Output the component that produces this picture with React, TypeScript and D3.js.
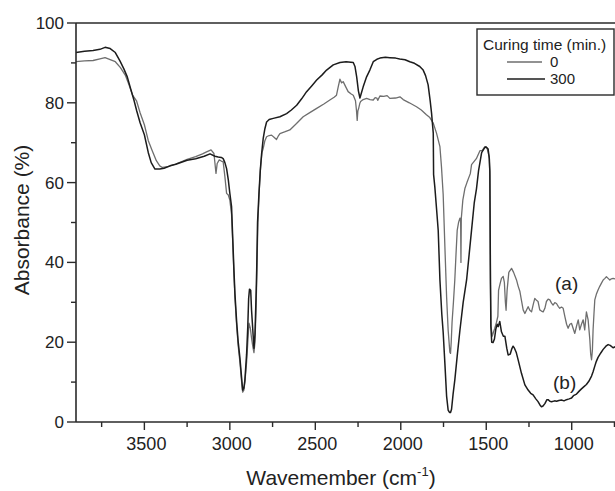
import React from "react";
import * as d3 from "d3";

// Wavenumbers (cm^-1) and absorbance (%) for 300 min curing (b, black)
const wn300 = [3900,3850,3800,3760,3730,3700,3670,3643,3620,3600,3580,3560,3545,3525,3500,3477,3460,3438,3410,3385,3350,3316,3250,3200,3150,3116,3087,3068,3050,3039,3029,3019,3009,3000,2990,2983,2976,2970,2960,2951,2941,2931,2925,2918,2912,2902,2895,2890,2885,2878,2873,2867,2859,2853,2847,2843,2838,2830,2822,2814,2805,2795,2785,2770,2746,2707,2668,2640,2609,2580,2551,2520,2492,2460,2434,2395,2356,2320,2278,2268,2258,2248,2239,2230,2220,2200,2181,2161,2140,2122,2090,2064,2030,2006,1975,1947,1920,1889,1869,1855,1840,1828,1820,1810,1808,1801,1790,1781,1771,1760,1752,1742,1732,1723,1715,1709,1703,1694,1684,1670,1654,1635,1615,1600,1586,1570,1557,1545,1527,1510,1502,1489,1482,1479,1476,1473,1468,1460,1452,1444,1436,1430,1421,1411,1400,1391,1380,1372,1360,1350,1343,1335,1325,1313,1294,1274,1255,1240,1226,1210,1197,1185,1177,1168,1157,1145,1138,1128,1118,1100,1089,1075,1060,1045,1031,1015,1001,990,972,955,943,930,914,900,884,875,865,856,846,830,816,800,787,775,758,740,720,700];
const abs300 = [92.6,92.9,93.1,93.4,93.9,93.6,92.6,90.5,88.5,86.5,83.5,80.5,78,75,72,67.5,65,63.4,63.4,63.6,64.2,64.6,65.6,66,66.6,67.2,66.6,66.4,66.3,66,65,63.5,60.7,57.3,54,46,38,32,25,20,16,11,8,8.5,10.5,17,24,31,33.3,33,28,24,18.5,22,31,38,50,57,63,67.3,71,73.5,75.2,75.8,76.1,76.5,77.3,78.2,79.4,81,82.8,84.3,85.7,87,88.2,89.5,90.1,90.3,90.1,89.1,86.5,83,81.2,82.5,84,86.5,88.2,90.3,90.9,91.2,91.4,91.3,91.2,91,90.8,90.3,89.9,89.1,88.2,86.8,84.5,80.5,77.4,72.4,62,59,53,48,35.6,27,22.5,14.7,6.5,3,2.4,2.4,3.2,7,10.5,16.5,23,30,35.6,42,48.1,55,58.5,63,67.5,68.7,69,68.4,66,63,40,24,20,19.9,20.8,23.3,24.5,23.9,25.2,22.6,21.5,21.5,18.5,16.8,17,18.4,19,18.5,17.5,15.5,12.2,9.3,8,7.2,6.8,5.8,5.1,4.2,3.8,4,4.6,5.6,5.6,5.2,5.1,5.3,5.2,5.4,5.5,5.3,5.6,5.8,6,6.6,7,7.8,8.3,8.8,9.4,10.2,11.5,12.6,14,15.2,16.2,17.3,18.2,19,19.4,19.2,18.6,19,19.3,19.5];

// 0 min curing (a, grey)
const wn0 = [3900,3850,3800,3760,3730,3700,3670,3640,3610,3590,3570,3546,3525,3500,3477,3454,3430,3410,3395,3362,3320,3250,3200,3160,3136,3110,3093,3081,3074,3062,3050,3039,3029,3019,3009,3000,2990,2983,2976,2970,2960,2951,2941,2931,2925,2918,2912,2902,2895,2888,2880,2873,2866,2859,2853,2847,2843,2836,2828,2820,2812,2805,2795,2785,2770,2756,2740,2727,2715,2707,2680,2649,2610,2571,2530,2492,2450,2415,2390,2376,2366,2356,2346,2337,2322,2308,2290,2278,2265,2259,2255,2251,2247,2240,2235,2220,2200,2180,2161,2150,2140,2135,2122,2100,2080,2064,2030,2005,1986,1950,1908,1880,1850,1830,1810,1791,1771,1762,1752,1742,1732,1723,1713,1709,1705,1700,1692,1684,1677,1670,1662,1654,1650,1648,1646,1637,1625,1613,1600,1593,1586,1558,1537,1524,1508,1495,1483,1479,1476,1472,1465,1458,1450,1440,1432,1428,1420,1411,1401,1394,1388,1384,1378,1368,1352,1340,1323,1313,1303,1294,1284,1274,1265,1255,1245,1235,1225,1216,1206,1197,1187,1177,1167,1157,1148,1138,1128,1118,1109,1099,1089,1079,1070,1060,1050,1040,1030,1021,1011,1001,992,982,972,962,953,943,933,924,914,904,894,889,884,879,875,870,865,856,846,836,826,816,806,797,787,777,768,758,740,720,700];
const abs0 = [90.3,90.5,90.6,91,91.3,90.8,90.3,88.8,86.8,84.5,82,80.5,77.5,74.5,70.5,68,65.5,64.2,63.8,64,64.6,65.8,66.5,67.2,67.7,68.2,67.3,62.3,64.8,65.7,65.4,65.2,61.5,57.3,56.9,55.6,52,45,37,31,24,19,15,10,7.5,8,10,15,20,24.8,23.5,21,19,17.4,20,28,35,50,58,64,67.5,68.5,70.5,71.5,71.8,71.9,71.3,70.8,71.8,72.3,72.7,73.2,74.8,76.5,77.6,78.6,79.7,80.7,81.4,81.9,84,85.9,85,85.3,84,82.8,82.2,81.9,80.5,78,75.6,78,78.5,79.8,80.3,80.8,81.1,80.8,80.7,81.3,81.2,80.6,81.7,81.6,81.8,81.1,81.2,81.5,80.8,80,79,78.2,77,76.3,74.9,72.4,69,64,57,44,31.4,23.1,17.5,17.2,20,25,30,35.6,42,48,50,51.1,51,40,51,55.6,58.5,60,61.5,62.3,64.5,66,68,68,69,68.6,66.5,62,35,24,21.5,22.5,23.5,25,26.5,33,34.5,36,36.5,35,30,28,33,37.5,38.5,37.5,35.6,34,32.7,30.5,28.1,27.2,28,28.9,28,27.6,29.5,31,30.5,30.2,28.1,27.8,27.6,28.5,30.2,30.8,30.6,29.8,29.3,29.9,29.7,29,28.5,28.8,28.5,26.4,24.5,23.5,24.5,24.7,23.5,22.2,24,25.6,23.1,24.5,25.6,23.1,27.6,25.6,20.6,17,15.6,18,23.1,27,30.6,32,33.1,34,34.8,35.6,36,36.4,36,35.6,35.9,36,35.8,35.5,35.5];

const xMajor = [3500, 3000, 2500, 2000, 1500, 1000];
const xMinor = [3750, 3250, 2750, 2250, 1750, 1250, 750];
const yMajor = [0, 20, 40, 60, 80, 100];
const yMinor = [10, 30, 50, 70, 90];
const legendLabels = ["0", "300"];

const FONT = "'Liberation Sans', Arial, Helvetica, sans-serif";
const L = 76, R = 623, T = 23, B = 422;
const GREY = "#6e6e6e";
const DARK = "#1c1c1c";
const AX = "#2a2a2a";

export default function App() {
  const x = d3.scaleLinear().domain([3900, 700]).range([L, R]);
  const y = d3.scaleLinear().domain([0, 100]).range([B, T]);
  const line = d3.line<[number, number]>().x(d => x(d[0])).y(d => y(d[1]));
  const d0 = line(wn0.map((w, i) => [w, abs0[i]] as [number, number])) || "";
  const d300 = line(wn300.map((w, i) => [w, abs300[i]] as [number, number])) || "";

  return (
    <svg width={615} height={491} style={{ position: "absolute", left: 0, top: 0, background: "#fff" }} fontFamily={FONT}>
      <defs>
        <clipPath id="plot"><rect x={L} y={T} width={R - L} height={B - T} /></clipPath>
      </defs>
      <rect x={0} y={0} width={615} height={491} fill="#fff" />
      <g clipPath="url(#plot)" fill="none" strokeLinejoin="round">
        <path d={d0} stroke={GREY} strokeWidth={1.3} />
        <path d={d300} stroke={DARK} strokeWidth={1.5} />
      </g>
      {/* frame */}
      <g stroke={AX} strokeWidth={1.6} fill="none">
        <line x1={L} y1={T} x2={L} y2={B} />
        <line x1={L} y1={B} x2={615} y2={B} />
        <line x1={L} y1={T} x2={615} y2={T} />
      </g>
      {/* x ticks */}
      <g stroke={AX} strokeWidth={1.4}>
        {xMajor.map(v => <line key={"xM" + v} x1={x(v)} x2={x(v)} y1={B} y2={B + 8} />)}
        {xMinor.map(v => <line key={"xm" + v} x1={x(v)} x2={x(v)} y1={B} y2={B + 5} />)}
        {yMajor.map(v => <line key={"yM" + v} x1={L - 9} x2={L} y1={y(v)} y2={y(v)} />)}
        {yMinor.map(v => <line key={"ym" + v} x1={L - 5} x2={L} y1={y(v)} y2={y(v)} />)}
      </g>
      <g fill="#222" fontSize={18} textAnchor="middle">
        {xMajor.map(v => <text key={"xt" + v} x={x(v) + 2} y={450}>{v}</text>)}
      </g>
      <g fill="#222" fontSize={17} textAnchor="end">
        {yMajor.map(v => <text key={"yt" + v} x={64} y={y(v) + 6}>{v}</text>)}
      </g>
      <text x={341} y={485} fontSize={21} textAnchor="middle" fill="#222">
        Wavemember (cm<tspan dy={-9} fontSize={13}>-1</tspan><tspan dy={9}>)</tspan>
      </text>
      <text transform="translate(29,220) rotate(-90)" fontSize={21} textAnchor="middle" fill="#222">Absorbance (%)</text>
      {/* annotations */}
      <text x={555} y={290} fontSize={19} fill="#222">(a)</text>
      <text x={553} y={389} fontSize={19} fill="#222">(b)</text>
      {/* legend */}
      <rect x={477} y={29} width={137} height={66} fill="#fff" stroke={AX} strokeWidth={1.4} />
      <text x={483} y={50} fontSize={15.5} fill="#222">Curing time (min.)</text>
      <line x1={507} x2={542} y1={62} y2={62} stroke={GREY} strokeWidth={1.3} />
      <line x1={507} x2={545} y1={79} y2={79} stroke={DARK} strokeWidth={1.5} />
      <text x={550} y={67} fontSize={15} fill="#222">{legendLabels[0]}</text>
      <text x={550} y={84} fontSize={15} fill="#222">{legendLabels[1]}</text>
    </svg>
  );
}
